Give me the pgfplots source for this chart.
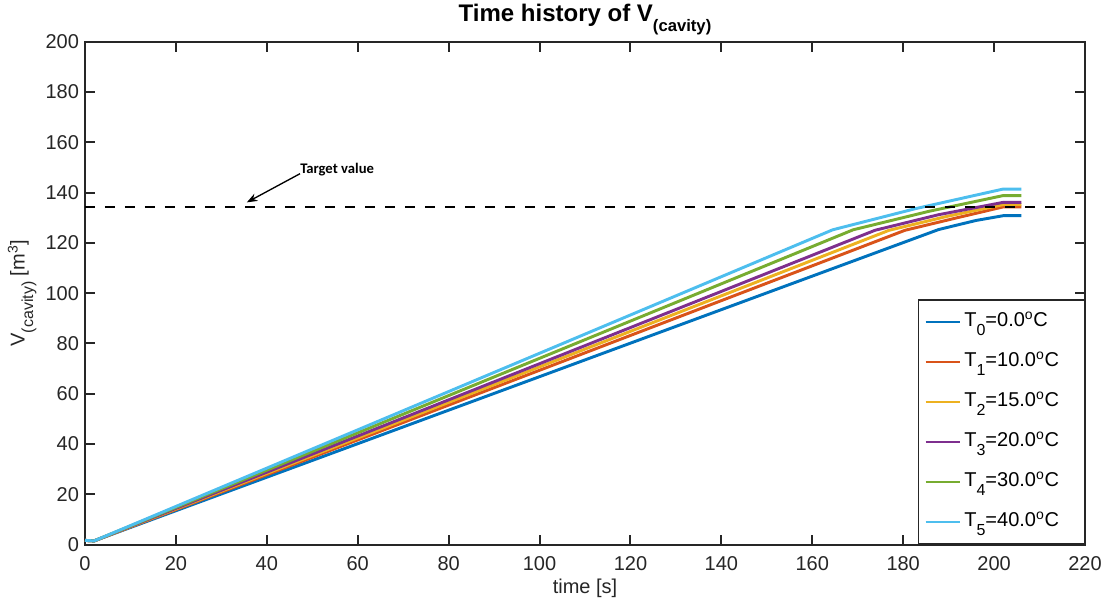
\documentclass[border=0pt]{standalone}
\usepackage{pgfplots}
\pgfplotsset{compat=1.18}
\usepackage{fontspec}
\setmainfont{Liberation Sans}
\newfontfamily\carlito{Carlito}
\usetikzlibrary{arrows.meta}

\definecolor{axgray}{rgb}{0.15,0.15,0.15}
\definecolor{mc0}{rgb}{0,0.447,0.741}
\definecolor{mc1}{rgb}{0.85,0.325,0.098}
\definecolor{mc2}{rgb}{0.929,0.694,0.125}
\definecolor{mc3}{rgb}{0.494,0.184,0.556}
\definecolor{mc4}{rgb}{0.466,0.674,0.188}
\definecolor{mc5}{rgb}{0.301,0.745,0.933}

% MATLAB-style subscript: larger and lower than \textsubscript
\newcommand\msub[2]{\raisebox{-0.42em}{\fontsize{#1}{#1}\selectfont #2}}
\newcommand\tent[2]{T\msub{12}{#1}=#2\textsuperscript{o}C}

\begin{document}
\begin{tikzpicture}
\begin{axis}[
    scale only axis,
    width=750pt,
    height=377.25pt,
    xmin=0, xmax=220,
    ymin=0, ymax=200,
    xtick={0,20,...,220},
    ytick={0,20,...,200},
    tick align=inside,
    major tick length=7.5pt,
    axis line style={line width=1.5pt, draw=axgray},
    tick style={line width=1.5pt, draw=axgray},
    ticklabel style={font=\fontsize{15}{17}\selectfont, text=axgray},
    xticklabel style={yshift=-5pt},
    yticklabel style={xshift=-1pt},
    /pgf/number format/assume math mode=true,
    xlabel={time [s]},
    ylabel={V\msub{12}{(cavity)} [m\textsuperscript{3}]},
    label style={font=\fontsize{15}{17}\selectfont, text=axgray},
    title={\textbf{Time history of V\msub{12.5}{(cavity)}}},
    title style={font=\fontsize{18}{20}\selectfont, at={(0.5,1)}, anchor=base, yshift=9pt},
    legend style={
        at={(1,0)}, anchor=south east,
        draw=axgray, line width=1pt,
        font=\fontsize{15}{17}\selectfont,
        /tikz/row sep=11pt,
        inner xsep=4pt, inner ysep=7pt,
        nodes={text width=84pt, text height=11pt, text depth=4pt, inner xsep=2pt, inner ysep=2pt},
    },
    legend image code/.code={\draw[#1, line width=2.2pt] (0pt,0pt) -- (26pt,0pt);},
    legend cell align=left,
]
\addplot[mc0, line width=2.2pt] coordinates {
    (0,1.7) (2,1.5) (187.8,125.3) (196,128.9) (202,130.8) (206,130.8)
};
\addplot[mc1, line width=2.2pt] coordinates {
    (0,1.7) (2,1.5) (180.4,125) (191.9,130) (202,134.3) (206,134.3)
};
\addplot[mc2, line width=2.2pt] coordinates {
    (0,1.7) (2,1.5) (176.9,125) (189.8,130.6) (202,135.2) (206,135.2)
};
\addplot[mc3, line width=2.2pt] coordinates {
    (0,1.7) (2,1.5) (173.8,125) (187.8,131.2) (202,136.1) (206,136.1)
};
\addplot[mc4, line width=2.2pt] coordinates {
    (0,1.7) (2,1.5) (169,125.2) (185.8,132.6) (202,138.8) (206,138.8)
};
\addplot[mc5, line width=2.2pt] coordinates {
    (0,1.7) (2,1.5) (164.5,125.2) (182.7,133.6) (202,141.4) (206,141.4)
};
\addplot[black, line width=1.5pt, dash pattern=on 7.5pt off 7.5pt, forget plot] coordinates {
    (0,134.3) (220,134.3)
};
\legend{\tent{0}{0.0}, \tent{1}{10.0}, \tent{2}{15.0},
        \tent{3}{20.0}, \tent{4}{30.0}, \tent{5}{40.0}}
\draw[-{Stealth[length=8pt,width=6pt]}, line width=1pt] (axis cs:47.3,147.5) -- (axis cs:35.6,136.1);
\node[anchor=west, inner sep=0pt, font=\carlito\bfseries\fontsize{11}{13}\selectfont] at (axis cs:47.3,149.2) {Target value};
\end{axis}
\pgfresetboundingbox
\path[use as bounding box] (-63.75pt,-46.5pt) rectangle (766.5pt,408.5pt);
\end{tikzpicture}
\end{document}
